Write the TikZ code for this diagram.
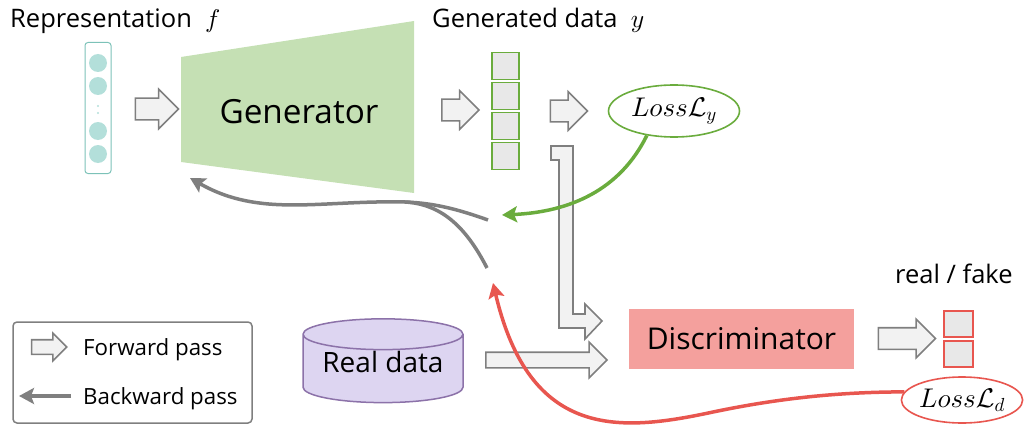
\documentclass[tikz,border=0pt]{standalone}
\usepackage{fontspec}
\setmainfont{Open Sans}
\usetikzlibrary{shapes.geometric,shapes.arrows,arrows.meta}

% scalable math letters
\DeclareFontFamily{OML}{cmm}{\skewchar\font127 }
\DeclareFontShape{OML}{cmm}{m}{it}{<-> cmmi10}{}
\DeclareFontFamily{OMS}{cmsy}{\skewchar\font48 }
\DeclareFontShape{OMS}{cmsy}{m}{n}{<-> cmsy10}{}

\definecolor{arrgray}{HTML}{7F7F7F}
\definecolor{arrfill}{HTML}{F2F2F2}
\definecolor{boxfill}{HTML}{E8E8E8}
\definecolor{repteal}{HTML}{B3DFDA}
\definecolor{repedge}{HTML}{7CC2B8}
\definecolor{genfill}{HTML}{C5E0B4}
\definecolor{lossgreen}{HTML}{6AAC3D}
\definecolor{lossred}{HTML}{E8564F}
\definecolor{discfill}{HTML}{F4A09D}
\definecolor{realfill}{HTML}{DDD5F1}
\definecolor{realedge}{HTML}{8C72A9}

\tikzset{
    fwd/.style={single arrow, draw=arrgray, fill=arrfill, line width=1.6pt,
        inner xsep=0pt, inner ysep=#1, outer sep=0pt},
    fwd/.default=10pt,
    bwd/.style={line width=3.5pt, -{Stealth[length=15pt,width=16pt,inset=3pt]}},
    cell/.style={draw, fill=boxfill, line width=1.6pt, inner sep=0pt},
    lossnode/.style={ellipse, draw, fill=white, line width=1.6pt, inner sep=0pt,
        font=\fontsize{27}{32}\selectfont},
    label/.style={font=\fontsize{25.5}{30}\selectfont, inner sep=0pt},
    legtext/.style={font=\fontsize{22.3}{27}\selectfont, inner sep=0pt},
}

\begin{document}
\begin{tikzpicture}[x=1pt,y=-1pt]
    \useasboundingbox (0,0) rectangle (1024,425);

    % Representation vector
    \node[label, anchor=base west] (replabel) at (10,28) {Representation \ $f$};
    \node[draw=repedge, line width=1pt, rounded corners=3pt, minimum width=26pt,
        minimum height=131pt, inner sep=0pt] (rep) at (98,108) {};
    \foreach \cy in {63,86,131,154}
        \fill[repteal] (98,\cy) circle (9);
    \fill[repteal] (98,106) circle (1.2) (98,113) circle (1.2);

    \node[fwd, minimum height=43pt, single arrow head extend=9pt] (fa1) at (151.5,109) {};

    % Generator
    \fill[genfill] (181,57) -- (414,21) -- (414,193) -- (181,162) -- cycle;
    \node[font=\fontsize{33.3}{40}\selectfont, anchor=base, inner sep=0pt] (gen) at (299,123) {Generator};

    \node[fwd, minimum height=37pt, single arrow head extend=8.5pt] (fa2) at (455,110) {};

    % Generated data y
    \node[label, anchor=base west] (ylabel) at (432,28) {Generated data \ $y$};
    \foreach \i/\cy in {1/66,2/96,3/126,4/156}
        \node[cell, draw=lossgreen, minimum width=27pt, minimum height=27pt] (y\i) at (505.5,\cy) {};

    \node[fwd, minimum height=37pt, single arrow head extend=8.5pt] (fa3) at (563.5,111) {};

    \node[lossnode, draw=lossgreen, minimum width=131pt, minimum height=52pt] (lossy) at (674,111) {$Loss\mathcal{L}_y$};

    % L-shaped arrow from y to the discriminator
    \draw[arrgray, fill=arrfill, line width=1.6pt, line join=miter]
        (551,146) -- (573,146) -- (573,314) -- (585,314) -- (585,304) -- (602,321)
        -- (585,339) -- (585,328) -- (559,328) -- (559,160) -- (551,160) -- cycle;

    % Real data
    \node[cylinder, shape border rotate=90, aspect=0.25, draw=realedge, fill=realfill,
        line width=1.5pt, minimum width=160pt, minimum height=69pt, inner sep=1pt,
        text depth=16pt, font=\fontsize{28}{34}\selectfont] (real) at (383,370) {Real data};

    \node[fwd=7pt, minimum height=121pt, single arrow head extend=10pt] (fa4) at (542.5,360) {};

    % Discriminator and output
    \node[fill=discfill, minimum width=225pt, minimum height=60pt,
        font=\fontsize{30}{36}\selectfont] (disc) at (741.5,339) {Discriminator};

    \node[fwd, minimum height=57pt, single arrow head extend=8.5pt] (fa5) at (901.5,338.5) {};

    \node[label, anchor=base west] (rflabel) at (895,283) {real / fake};
    \node[cell, draw=lossred, minimum width=29pt, minimum height=26pt] (o1) at (958.5,324) {};
    \node[cell, draw=lossred, minimum width=29pt, minimum height=26pt] (o2) at (958.5,354) {};

    \node[lossnode, draw=lossred, minimum width=120pt, minimum height=46pt] (lossd) at (962,400) {$Loss\mathcal{L}_d$};

    % Backward passes
    \coordinate (gtip) at (502,215);
    \coordinate (rtip) at (493,283);
    \coordinate (gback1) at (488,220);
    \coordinate (gback2) at (487,268);
    \coordinate (gmerge) at (405,202);
    \coordinate (gentip) at (190,178);

    \draw[bwd, lossgreen] (lossy.222) .. controls (620,190) and (570,212) .. (gtip);
    \draw[bwd, lossred] (lossd.172) .. controls (840,392) and (780,398) .. (713,412)
        .. controls (620,432) and (530,440) .. (rtip);

    \draw[arrgray, line width=3.5pt] (gback1) .. controls (460,210) and (435,203) .. (gmerge);
    \draw[arrgray, line width=3.5pt] (gback2) .. controls (465,225) and (440,204) .. (gmerge);
    \draw[bwd, arrgray] (gmerge) .. controls (320,200) and (260,218) .. (gentip);

    % Legend
    \node[draw=arrgray, line width=1.5pt, rounded corners=4pt, minimum width=239pt,
        minimum height=101pt] (legend) at (132.5,372.5) {};
    \node[fwd=6.5pt, minimum height=35pt, single arrow head extend=6.5pt] (legfwd) at (45.5,347) {};
    \node[legtext, anchor=base west] (legfwdtext) at (83,355) {Forward pass};
    \coordinate (legbwd1) at (71,396);
    \coordinate (legbwd2) at (19,396);
    \draw[bwd, arrgray] (legbwd1) -- (legbwd2);
    \node[legtext, anchor=base west] (legbwdtext) at (83,404) {Backward pass};
\end{tikzpicture}
\end{document}
